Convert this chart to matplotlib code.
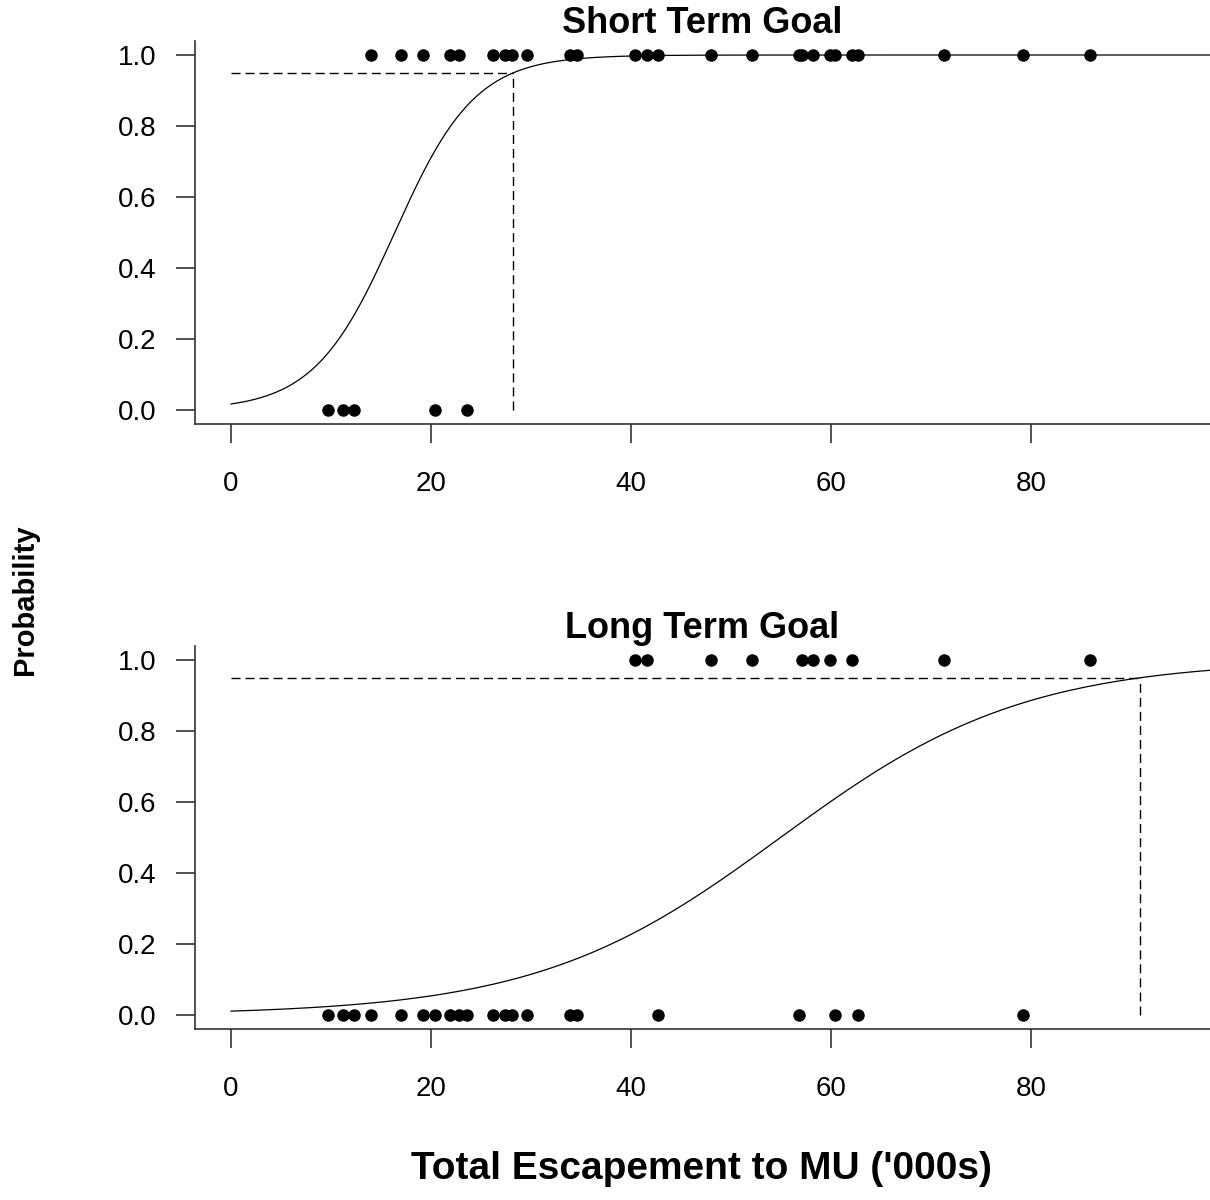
import numpy as np
import matplotlib.pyplot as plt

# escapement ('000s) per year, split by whether the goal was met
short_met = [14.0, 17.0, 19.2, 21.9, 22.8, 26.2, 27.4, 28.1, 29.6, 33.9, 34.6,
             40.4, 41.6, 42.7, 48.0, 52.1, 56.8, 57.1, 58.2, 59.9, 60.4, 62.1,
             62.7, 71.3, 79.2, 85.9]
short_missed = [9.7, 11.2, 12.3, 20.4, 23.6]

long_met = [40.4, 41.6, 48.0, 52.1, 57.1, 58.2, 59.9, 62.1, 71.3, 85.9]
long_missed = [9.7, 11.2, 12.3, 14.0, 17.0, 19.2, 20.4, 21.9, 22.8, 23.6,
               26.2, 27.4, 28.1, 29.6, 33.9, 34.6, 42.7, 56.8, 60.4, 62.7, 79.2]

# logistic glm coefficients (intercept, slope) for each goal
short_coef = (-4.06, 0.248)
long_coef = (-4.50, 0.0819)
target_p = 0.95

titles = ["Short Term Goal", "Long Term Goal"]
xticks = [0, 20, 40, 60, 80]
yticks = [0.0, 0.2, 0.4, 0.6, 0.8, 1.0]

plt.rcParams['font.family'] = ['Liberation Sans', 'DejaVu Sans']

fig = plt.figure(figsize=(12.1, 12), dpi=100)
ax_top = fig.add_axes([0.1612, 0.6465, 0.8388, 0.3195])
ax_bot = fig.add_axes([0.1612, 0.1423, 0.8388, 0.3195])

panels = [(ax_top, short_met, short_missed, short_coef),
          (ax_bot, long_met, long_missed, long_coef)]

for (ax, met, missed, coef), title in zip(panels, titles):
    b0, b1 = coef
    xs = np.linspace(0, 100, 201)
    ax.plot(xs, 1 / (1 + np.exp(-(b0 + b1 * xs))), color='black', lw=0.9)

    # escapement giving 95% chance of meeting the goal
    x95 = (np.log(target_p / (1 - target_p)) - b0) / b1
    ax.plot([0, x95], [target_p, target_p], color='black', lw=1.0, dashes=(6.5, 3.6))
    ax.plot([x95, x95], [0, target_p], color='black', lw=1.0, dashes=(6.5, 3.6))

    ax.plot(met, [1] * len(met), 'o', color='black', ms=9, mec='none')
    ax.plot(missed, [0] * len(missed), 'o', color='black', ms=9, mec='none')

    ax.set_xlim(-3.6, 97.9)
    ax.set_ylim(-0.04, 1.04)
    ax.set_xticks(xticks)
    ax.set_yticks(yticks)
    ax.set_xticklabels([str(t) for t in xticks])
    ax.set_yticklabels(['%.1f' % t for t in yticks])
    ax.tick_params(labelsize=20, length=13.5, width=1.2, color='#333333')
    ax.tick_params(axis='x', pad=20)
    ax.tick_params(axis='y', pad=14)
    for side in ['top', 'right']:
        ax.spines[side].set_visible(False)
    for side in ['left', 'bottom']:
        ax.spines[side].set_linewidth(1.2)
        ax.spines[side].set_color('#333333')
    ax.set_title(title, fontsize=26, fontweight='bold', pad=4)

fig.text(0.021, 0.5, 'Probability', rotation=90, fontsize=21, fontweight='bold',
         ha='center', va='center')
fig.text(0.58, 0.026, "Total Escapement to MU ('000s)", fontsize=28,
         fontweight='bold', ha='center', va='center')

fig.savefig('out.png', dpi=100)
